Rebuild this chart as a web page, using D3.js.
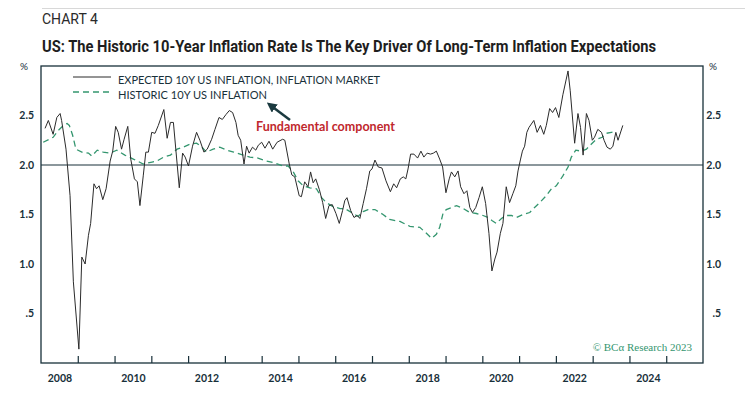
<!DOCTYPE html>
<html>
<head>
<meta charset="utf-8">
<title>Chart 4</title>
<script src="https://cdn.jsdelivr.net/npm/d3@7"></script>
<style>
  body {margin:0; background:#fff;}
  svg {display:block;}
  text {font-family: Lato, "Noto Sans", sans-serif;}
</style>
</head>
<body>
<svg id="chart" width="753" height="395"></svg>
<script>
// expected 10y inflation (inflation market), decimal years
var expDates = [2008.11,2008.20,2008.33,2008.43,2008.52,2008.56,2008.68,2008.79,2008.88,2009.03,
  2009.11,2009.20,2009.29,2009.35,2009.44,2009.51,2009.58,2009.68,2009.77,2009.88,2009.95,
  2010.03,2010.10,2010.19,2010.26,2010.36,2010.44,2010.54,2010.62,2010.69,2010.78,2010.85,2010.92,
  2011.01,2011.10,2011.19,2011.34,2011.43,2011.52,2011.60,2011.67,2011.76,2011.85,2011.92,
  2012.01,2012.12,2012.23,2012.32,2012.43,2012.52,2012.64,2012.73,2012.84,2012.93,
  2013.03,2013.12,2013.21,2013.30,2013.36,2013.43,2013.52,2013.59,2013.66,2013.75,2013.84,2013.91,
  2014.00,2014.09,2014.20,2014.30,2014.42,2014.57,2014.63,2014.75,2014.82,2014.90,
  2015.02,2015.08,2015.17,2015.26,2015.33,2015.40,2015.47,2015.57,2015.66,2015.74,2015.83,2015.92,
  2016.02,2016.11,2016.20,2016.26,2016.32,2016.42,2016.51,2016.60,2016.67,2016.76,2016.85,2016.94,
  2017.00,2017.08,2017.17,2017.27,2017.38,2017.50,2017.59,2017.67,2017.77,2017.85,2017.92,2017.98,
  2018.05,2018.14,2018.24,2018.33,2018.41,2018.50,2018.59,2018.67,2018.75,2018.84,2018.92,
  2019.01,2019.10,2019.16,2019.25,2019.34,2019.41,2019.50,2019.58,2019.66,2019.73,2019.82,2019.91,
  2020.00,2020.09,2020.18,2020.26,2020.34,2020.40,2020.49,2020.56,2020.65,2020.74,2020.83,2020.91,2020.97,
  2021.04,2021.09,2021.15,2021.21,2021.27,2021.40,2021.49,2021.58,2021.67,2021.74,2021.83,2021.91,2021.99,
  2022.08,2022.19,2022.33,2022.39,2022.51,2022.60,2022.67,2022.74,2022.83,2022.90,2022.99,
  2023.05,2023.14,2023.24,2023.31,2023.39,2023.48,2023.55,2023.63,2023.69,2023.82];
var expected = [2.37,2.45,2.31,2.48,2.52,2.45,2.16,1.69,0.82,0.14,
  1.07,1.00,1.29,1.41,1.81,1.76,1.79,1.65,1.76,2.04,2.14,
  2.39,2.33,2.16,2.26,2.39,2.06,1.86,1.83,1.59,1.89,2.13,2.13,
  2.33,2.32,2.40,2.56,2.27,2.43,2.43,2.14,1.77,2.12,2.08,
  1.99,2.19,2.33,2.25,2.13,2.16,2.26,2.36,2.48,2.46,
  2.51,2.55,2.53,2.43,2.30,2.25,2.01,2.19,2.12,2.18,2.15,2.20,
  2.23,2.17,2.24,2.16,2.23,2.26,2.25,2.01,1.90,1.88,
  1.69,1.68,1.83,1.78,1.93,1.82,1.86,1.75,1.62,1.46,1.59,1.60,
  1.51,1.41,1.54,1.64,1.67,1.54,1.47,1.49,1.46,1.61,1.76,1.94,
  1.96,2.05,1.98,1.97,1.84,1.73,1.81,1.77,1.86,1.88,1.86,1.96,
  2.11,2.11,2.07,2.14,2.08,2.12,2.11,2.12,2.14,2.06,1.98,
  1.72,1.86,1.93,1.88,1.94,1.78,1.71,1.74,1.57,1.52,1.57,1.67,
  1.78,1.61,1.31,0.93,1.05,1.12,1.31,1.41,1.78,1.62,1.71,1.79,1.94,
  2.06,2.14,2.19,2.33,2.38,2.45,2.33,2.40,2.31,2.40,2.57,2.53,2.58,
  2.48,2.71,2.95,2.75,2.22,2.52,2.38,2.10,2.52,2.45,2.25,
  2.28,2.36,2.33,2.25,2.18,2.16,2.19,2.33,2.25,2.40];

// historic 10y US inflation
var histDates = [2008.06,2008.33,2008.47,2008.61,2008.71,2008.77,2008.86,2008.95,
  2009.11,2009.29,2009.38,2009.53,2009.69,2009.88,2010.06,2010.28,2010.51,2010.78,
  2011.02,2011.15,2011.34,2011.52,2011.70,2011.87,2012.05,2012.23,2012.35,2012.50,2012.68,2012.86,
  2013.05,2013.24,2013.50,2013.68,2013.90,2014.13,2014.36,2014.58,2014.72,2014.86,2014.99,
  2015.13,2015.31,2015.49,2015.63,2015.76,2015.94,2016.13,2016.26,2016.49,2016.62,2016.76,2016.89,
  2017.08,2017.30,2017.48,2017.76,2018.03,2018.30,2018.48,2018.62,2018.75,2018.84,2018.93,
  2019.02,2019.30,2019.48,2019.66,2019.84,2020.02,2020.15,2020.26,2020.38,2020.52,2020.65,2020.79,2020.93,
  2021.11,2021.29,2021.42,2021.56,2021.74,2021.88,2022.01,2022.19,2022.33,2022.42,2022.54,2022.69,2022.83,2022.96,
  2023.10,2023.26,2023.37,2023.51,2023.64];
var historic = [2.23,2.28,2.35,2.40,2.42,2.40,2.30,2.16,
  2.13,2.12,2.09,2.15,2.13,2.12,2.15,2.10,2.06,2.01,
  2.03,2.04,2.08,2.10,2.16,2.18,2.21,2.22,2.19,2.13,2.16,2.18,
  2.15,2.13,2.10,2.08,2.07,2.04,2.02,1.99,1.99,1.93,1.84,
  1.79,1.77,1.76,1.67,1.62,1.58,1.56,1.56,1.51,1.48,1.53,1.55,
  1.55,1.50,1.45,1.43,1.38,1.37,1.31,1.26,1.30,1.37,1.51,
  1.55,1.59,1.56,1.52,1.51,1.49,1.47,1.44,1.41,1.46,1.49,1.49,1.47,
  1.50,1.52,1.57,1.62,1.69,1.76,1.79,1.89,1.98,2.08,2.15,2.14,2.16,2.21,
  2.26,2.28,2.32,2.33,2.34];

var yTicks = [0.5, 1.0, 1.5, 2.0, 2.5];
var yearTicks = d3.range(2009, 2026);
var yearLabels = [2008, 2010, 2012, 2014, 2016, 2018, 2020, 2022, 2024];

var dark = '#18303a', green = '#34966f';

var svg = d3.select('#chart');
var L = 41, R = 703, T = 66, B = 363;

var x = d3.scaleLinear().domain([2008, 2026]).range([L, R]);
var y = d3.scaleLinear().domain([0, 3]).range([B, T]);

// header
svg.append('line').attr('x1', 42).attr('x2', 745).attr('y1', 8.5).attr('y2', 8.5)
  .attr('stroke', '#d8d8d8').attr('stroke-width', 1);
svg.append('text').attr('x', 42).attr('y', 24).text('CHART 4')
  .style('font-family', '"Liberation Sans Narrow", Roboto, sans-serif')
  .attr('font-size', 14).attr('fill', '#2a2a2a');
svg.append('text').attr('x', 42).attr('y', 52)
  .text('US: The Historic 10-Year Inflation Rate Is The Key Driver Of Long-Term Inflation Expectations')
  .style('font-family', '"Liberation Sans Narrow", Roboto, sans-serif')
  .attr('font-size', 17).attr('font-weight', 'bold').attr('fill', '#1e1e1e')
  .attr('textLength', 614).attr('lengthAdjust', 'spacingAndGlyphs');

// frame
svg.append('rect').attr('x', L).attr('y', T).attr('width', R - L).attr('height', B - T)
  .attr('fill', 'none').attr('stroke', dark).attr('stroke-width', 1.3);

// 2.0 reference line
svg.append('line').attr('x1', L).attr('x2', R).attr('y1', y(2)).attr('y2', y(2))
  .attr('stroke', dark).attr('stroke-width', 1.2);

// axes
var tickFmt = function (d) { return d === 0.5 ? '.5' : d3.format('.1f')(d); };
var yl = svg.append('g').attr('transform', 'translate(' + (L - 4) + ',0)')
  .call(d3.axisLeft(y).tickValues(yTicks).tickSize(0).tickFormat(tickFmt));
var yr = svg.append('g').attr('transform', 'translate(' + (R + 21) + ',0)')
  .call(d3.axisLeft(y).tickValues(yTicks).tickSize(0).tickFormat(tickFmt));
[yl, yr].forEach(function (g) {
  g.select('.domain').remove();
  g.selectAll('text').attr('fill', dark).attr('font-size', 10.5).attr('font-weight', 'bold')
    .style('font-family', 'Lato, sans-serif');
});
svg.append('text').attr('x', 20).attr('y', 70).text('%').attr('font-size', 10).attr('fill', dark);
svg.append('text').attr('x', 709).attr('y', 70).text('%').attr('font-size', 10).attr('fill', dark);

var xt = svg.append('g').attr('transform', 'translate(0,' + B + ')')
  .call(d3.axisBottom(x).tickValues(yearTicks).tickSize(-7).tickFormat(''));
xt.select('.domain').remove();
xt.selectAll('line').attr('stroke', dark).attr('stroke-width', 1.2);

var xl = svg.append('g').attr('transform', 'translate(0,' + B + ')')
  .call(d3.axisBottom(x).tickValues(yearLabels.map(function (d) { return d + 0.5; }))
    .tickSize(0).tickPadding(12).tickFormat(function (d) { return Math.floor(d); }));
xl.select('.domain').remove();
xl.selectAll('text').attr('fill', dark).attr('font-size', 10.5).attr('font-weight', 'bold')
  .style('font-family', 'Lato, sans-serif');

// series
var line = d3.line().x(function (d) { return x(d[0]); }).y(function (d) { return y(d[1]); });

svg.append('path').datum(d3.zip(histDates, historic))
  .attr('d', line).attr('fill', 'none').attr('stroke', green)
  .attr('stroke-width', 1.3).attr('stroke-dasharray', '6,4');

svg.append('path').datum(d3.zip(expDates, expected))
  .attr('d', line).attr('fill', 'none').attr('stroke', '#2b2b2b')
  .attr('stroke-width', 1).attr('stroke-linejoin', 'round');

// legend
var legend = [
  {label: 'EXPECTED 10Y US INFLATION, INFLATION MARKET', dash: null, color: '#2b2b2b', w: 262},
  {label: 'HISTORIC 10Y US INFLATION', dash: '6,4', color: green, w: 149}
];
legend.forEach(function (d, i) {
  var yy = 77 + i * 15;
  svg.append('line').attr('x1', 73).attr('x2', 111).attr('y1', yy).attr('y2', yy)
    .attr('stroke', d.color).attr('stroke-width', d.dash ? 1.3 : 1)
    .attr('stroke-dasharray', d.dash);
  svg.append('text').attr('x', 118).attr('y', yy + 7).text(d.label)
    .attr('font-size', 11.5).attr('fill', dark)
    .attr('textLength', d.w).attr('lengthAdjust', 'spacingAndGlyphs');
});

// annotation
svg.append('defs').append('marker').attr('id', 'head')
  .attr('viewBox', '0 0 10 10').attr('refX', 6).attr('refY', 5)
  .attr('markerWidth', 4).attr('markerHeight', 4).attr('orient', 'auto')
  .append('path').attr('d', 'M0,0L10,5L0,10z').attr('fill', '#1b3a40');
svg.append('line').attr('x1', 290).attr('y1', 120).attr('x2', 270).attr('y2', 105)
  .attr('stroke', '#1b3a40').attr('stroke-width', 2.5).attr('marker-end', 'url(#head)');
svg.append('text').attr('x', 256).attr('y', 131).text('Fundamental component')
  .attr('font-size', 13).attr('font-weight', 'bold').attr('fill', '#c0272d')
  .attr('textLength', 139).attr('lengthAdjust', 'spacingAndGlyphs');

svg.append('text').attr('x', 692).attr('y', 351).attr('text-anchor', 'end')
  .text('\u00a9 BC\u03b1 Research 2023')
  .style('font-family', '"Liberation Serif", "DejaVu Serif", serif')
  .attr('font-size', 11).attr('fill', green);
</script>
</body>
</html>
